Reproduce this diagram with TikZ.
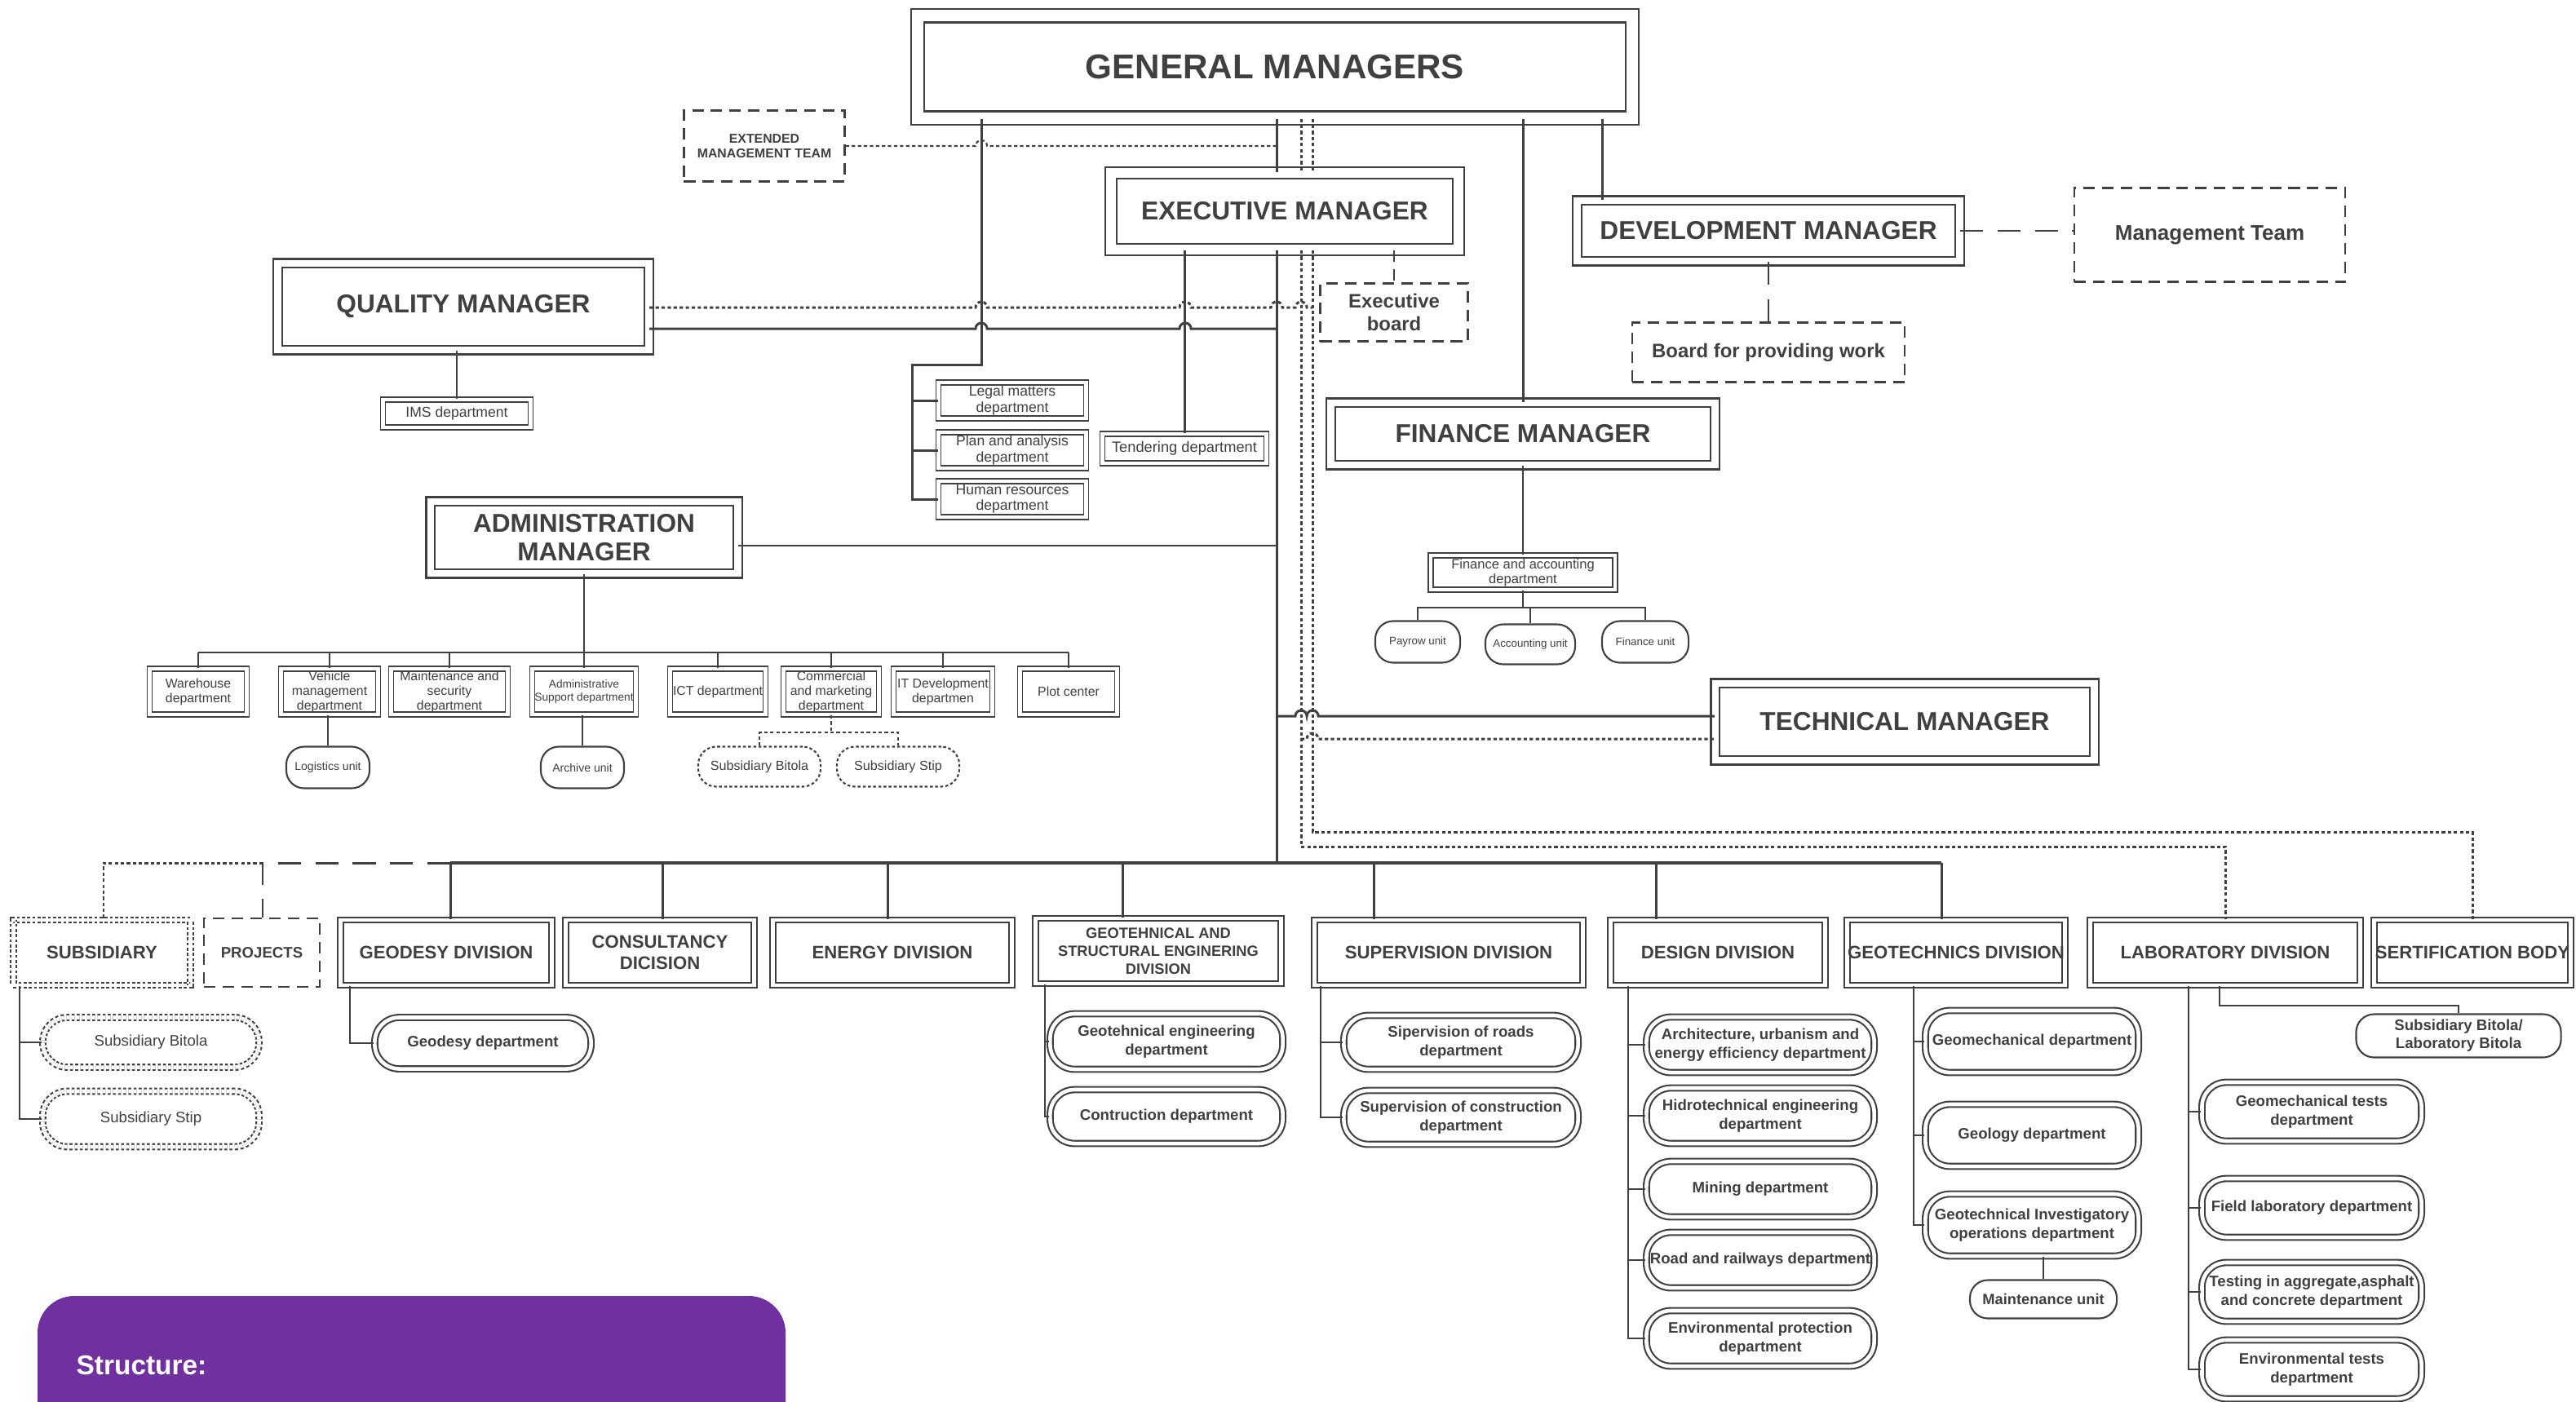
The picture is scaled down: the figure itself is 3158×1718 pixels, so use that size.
\documentclass[tikz,border=0pt]{standalone}
\usepackage{fontspec}
\setmainfont{Liberation Sans}
\usepackage{xcolor}
\usetikzlibrary{positioning}
\definecolor{ink}{HTML}{404040}
\definecolor{structpurple}{HTML}{7030A0}

\begin{document}
\begin{tikzpicture}[x=0.01cm, y=-0.01cm,
    every node/.style={text=ink, align=center, inner sep=0pt},
    wh/.style 2 args={minimum width=#1cm, minimum height=#2cm},
    gmbox/.style={draw=ink, line width=0.6pt, double, double distance=4pt, fill=white, font=\fontsize{12}{14}\selectfont\bfseries},
    chiefbox/.style={draw=ink, line width=0.6pt, double, double distance=2.5pt, fill=white, font=\fontsize{9}{10}\selectfont\bfseries},
    teambox/.style={draw=ink, line width=0.7pt, dash pattern=on 4pt off 2.5pt, fill=white, font=\fontsize{6.8}{8}\selectfont\bfseries},
    deptbox/.style={draw=ink, line width=0.5pt, double, double distance=1.2pt, fill=white, font=\fontsize{5}{5.5}\selectfont},
    admbox/.style={deptbox, font=\fontsize{4.5}{5.1}\selectfont},
    unitpill/.style={draw=ink, line width=0.6pt, rounded corners=0.22cm, fill=white, font=\fontsize{4}{5}\selectfont},
    subpill/.style={unitpill, dash pattern=on 1pt off 0.8pt, font=\fontsize{4.6}{5.5}\selectfont},
    divbox/.style={draw=ink, line width=0.6pt, double, double distance=1.3pt, fill=white, font=\fontsize{6.3}{7.4}\selectfont\bfseries},
    deptpill/.style={divbox, rounded corners=0.3cm, font=\fontsize{5.3}{6.4}\selectfont\bfseries},
    wire/.style={draw=ink, line width=0.85pt},
    thinwire/.style={draw=ink, line width=0.6pt},
    dotwire/.style={wire, dash pattern=on 1.2pt off 0.9pt},
    dashwire/.style={wire, line width=0.7pt, dash pattern=on 4pt off 2.5pt},
    longwire/.style={wire, dash pattern=on 8pt off 5pt}]

\useasboundingbox (0,0) rectangle (3158,1718);

% top management
\node[gmbox, wh={8.76}{1.25}] (gm) at (1563,82) {GENERAL MANAGERS};
\node[teambox, wh={1.97}{0.87}, font=\fontsize{4.5}{5.1}\selectfont\bfseries] (emt) at (937,179) {EXTENDED\\MANAGEMENT TEAM};
\node[chiefbox, double distance=3.5pt, wh={4.26}{0.94}] (em) at (1575,259) {EXECUTIVE MANAGER};
\node[teambox, wh={1.81}{0.71}] (eb) at (1709,383) {Executive\\board};
\node[chiefbox, wh={4.68}{0.74}] (dm) at (2168,283) {DEVELOPMENT MANAGER};
\node[teambox, wh={3.32}{1.15}, font=\fontsize{7.4}{8.5}\selectfont\bfseries] (mt) at (2709,288) {Management Team};
\node[teambox, wh={3.34}{0.73}] (bpw) at (2168,432) {Board for providing work};
\node[chiefbox, wh={4.54}{1.06}] (qm) at (568,376) {QUALITY MANAGER};
\node[deptbox, wh={1.81}{0.34}] (ims) at (560,507) {IMS department};
\node[deptbox, wh={1.81}{0.44}] (legal) at (1241,491) {Legal matters\\department};
\node[deptbox, wh={1.81}{0.44}] (plan) at (1241,552) {Plan and analysis\\department};
\node[deptbox, wh={1.81}{0.44}] (hr) at (1241,612) {Human resources\\department};
\node[deptbox, wh={2.01}{0.36}, font=\fontsize{5.2}{6}\selectfont] (tend) at (1452,550) {Tendering department};
\node[chiefbox, wh={4.70}{0.76}] (fm) at (1867,532) {FINANCE MANAGER};
\node[deptbox, wh={2.26}{0.42}, font=\fontsize{4.7}{5}\selectfont] (fad) at (1867,702) {Finance and accounting\\department};
\node[unitpill, wh={1.04}{0.51}, font=\fontsize{3.8}{4.5}\selectfont] (pay) at (1738,787) {Payrow unit};
\node[unitpill, wh={1.10}{0.49}, font=\fontsize{3.8}{4.5}\selectfont] (acc) at (1876,790) {Accounting unit};
\node[unitpill, wh={1.06}{0.51}, font=\fontsize{3.8}{4.5}\selectfont] (finu) at (2017,787) {Finance unit};
\node[chiefbox, wh={4.64}{0.94}] (tm) at (2335,885) {TECHNICAL MANAGER};
\node[chiefbox, wh={3.76}{0.88}] (am) at (716,659) {ADMINISTRATION\\MANAGER};

% administration departments
\node[admbox, wh={1.19}{0.56}] (ware) at (243,848) {Warehouse\\department};
\node[admbox, wh={1.19}{0.56}] (veh) at (404,848) {Vehicle\\management\\department};
\node[admbox, wh={1.43}{0.56}] (maint) at (551,848) {Maintenance and\\security\\department};
\node[admbox, wh={1.27}{0.56}, font=\fontsize{3.9}{4.7}\selectfont] (asup) at (716,848) {Administrative\\Support department};
\node[admbox, wh={1.17}{0.56}] (ict) at (880,848) {ICT department};
\node[admbox, wh={1.17}{0.56}] (comm) at (1019,848) {Commercial\\and marketing\\department};
\node[admbox, wh={1.21}{0.56}] (itd) at (1156,848) {IT Development\\departmen};
\node[admbox, wh={1.19}{0.56}] (plot) at (1310,848) {Plot center};
\node[unitpill, wh={1.02}{0.51}] (logi) at (402,941) {Logistics unit};
\node[unitpill, wh={1.02}{0.51}] (arch) at (714,941) {Archive unit};
\node[subpill, wh={1.50}{0.49}] (sbit) at (931,940) {Subsidiary Bitola};
\node[subpill, wh={1.50}{0.49}] (sstip) at (1101,940) {Subsidiary Stip};

% divisions
\node[divbox, dash pattern=on 1pt off 0.8pt, wh={2.17}{0.80}] (subs) at (125,1168) {SUBSIDIARY};
\node[teambox, wh={1.42}{0.84}, font=\fontsize{5.3}{6}\selectfont\bfseries] (proj) at (321,1168) {PROJECTS};
\node[divbox, wh={2.59}{0.80}] (geod) at (547,1168) {GEODESY DIVISION};
\node[divbox, wh={2.31}{0.80}] (cons) at (809,1168) {CONSULTANCY\\DICISION};
\node[divbox, wh={2.93}{0.80}] (ener) at (1094,1168) {ENERGY DIVISION};
\node[divbox, wh={3.01}{0.80}, font=\fontsize{5.2}{6.3}\selectfont\bfseries] (gstr) at (1420,1166) {GEOTEHNICAL AND\\STRUCTURAL ENGINERING\\DIVISION};
\node[divbox, wh={3.29}{0.80}] (supv) at (1776,1168) {SUPERVISION DIVISION};
\node[divbox, wh={2.63}{0.80}] (desg) at (2106,1168) {DESIGN DIVISION};
\node[divbox, wh={2.67}{0.80}] (gtch) at (2398,1168) {GEOTECHNICS DIVISION};
\node[divbox, wh={3.31}{0.80}] (lab) at (2728,1168) {LABORATORY DIVISION};
\node[divbox, wh={2.41}{0.80}] (sert) at (3031,1168) {SERTIFICATION BODY};

% division departments
\node[deptpill, dash pattern=on 1pt off 0.8pt, font=\fontsize{5.3}{6.4}\selectfont, wh={2.65}{0.61}] (sbit2) at (185,1278) {Subsidiary Bitola};
\node[deptpill, dash pattern=on 1pt off 0.8pt, font=\fontsize{5.3}{6.4}\selectfont, wh={2.65}{0.68}] (sstip2) at (185,1372) {Subsidiary Stip};
\node[deptpill, wh={2.65}{0.63}] (gdep) at (592,1279) {Geodesy department};
\node[deptpill, wh={2.85}{0.68}] (geng) at (1430,1277) {Geotehnical engineering\\department};
\node[deptpill, wh={2.85}{0.66}] (gcon) at (1430,1369) {Contruction department};
\node[deptpill, wh={2.87}{0.66}] (sroad) at (1791,1278) {Sipervision of roads\\department};
\node[deptpill, wh={2.87}{0.66}] (scon) at (1791,1370) {Supervision of construction\\department};
\node[deptpill, wh={2.79}{0.68}] (d1) at (2158,1281) {Architecture, urbanism and\\energy efficiency department};
\node[deptpill, wh={2.79}{0.68}] (d2) at (2158,1368) {Hidrotechnical engineering\\department};
\node[deptpill, wh={2.79}{0.68}] (d3) at (2158,1458) {Mining department};
\node[deptpill, wh={2.79}{0.68}] (d4) at (2158,1545) {Road and railways department};
\node[deptpill, wh={2.79}{0.68}] (d5) at (2158,1641) {Environmental protection\\department};
\node[deptpill, wh={2.61}{0.76}] (t1) at (2491,1277) {Geomechanical department};
\node[deptpill, wh={2.61}{0.76}] (t2) at (2491,1392) {Geology department};
\node[deptpill, wh={2.61}{0.76}] (t3) at (2491,1502) {Geotechnical Investigatory\\operations department};
\node[unitpill, wh={1.80}{0.47}, font=\fontsize{5.2}{6}\selectfont\bfseries] (mu) at (2505,1593) {Maintenance unit};
\node[unitpill, wh={2.51}{0.53}, font=\fontsize{5.3}{6.3}\selectfont\bfseries] (lbit) at (3014,1270) {Subsidiary Bitola/\\Laboratory Bitola};
\node[deptpill, wh={2.69}{0.72}] (l1) at (2834,1363) {Geomechanical tests\\department};
\node[deptpill, wh={2.69}{0.72}] (l2) at (2834,1481) {Field laboratory department};
\node[deptpill, wh={2.69}{0.72}] (l3) at (2834,1584) {Testing in aggregate,asphalt\\and concrete department};
\node[deptpill, wh={2.69}{0.72}] (l4) at (2834,1679) {Environmental tests\\department};

% structure panel
\fill[structpurple, rounded corners=0.45cm] (46,1589) rectangle (963,1800);
\node[anchor=west, text=white, font=\fontsize{9.5}{11}\selectfont\bfseries] (structure) at (93,1674) {Structure:};

% connectors: general managers
\draw[wire] (gm.south -| 1565,0) -- (em.north -| 1565,0);
\draw[wire] (gm.south -| 1203,0) -- (1203,447) -- (1118,447) -- (hr.west -| 1118,0) -- (hr.west);
\draw[wire] (legal.west -| 1118,0) -- (legal.west);
\draw[wire] (plan.west -| 1118,0) -- (plan.west);
\draw[wire] (gm.south -| fm.north) -- (fm.north);
\draw[wire] (gm.south -| 1964,0) -- (dm.north -| 1964,0);
\draw[dotwire] (gm.south -| 1595,0) -- (em.north -| 1595,0);
\draw[dotwire] (gm.south -| 1609,0) -- (em.north -| 1609,0);
\draw[dotwire, line width=0.6pt] (emt.east) -- (1196,179) arc[start angle=180, end angle=0, radius=2pt] -- (1565,179);

% executive manager
\coordinate (hub) at (1565,1058);
\draw[wire] (em.south -| hub) -- (hub);
\draw[wire] (em.south -| tend.north) -- (tend.north);
\draw[dashwire] (em.south -| eb.north) -- (eb.north);
\draw[dotwire] (em.south -| 1609,0) -- (1609,1020) -- (sert.north |- 0,1020) -- (sert.north);
\draw[dotwire] (em.south -| 1595,0) -- (1595,1038) -- (lab.north |- 0,1038) -- (lab.north);

% quality manager
\draw[dotwire] (qm.east |- 0,377) -- (1196,377) arc[start angle=180, end angle=0, radius=2pt]
  -- (1446,377) arc[start angle=180, end angle=0, radius=2pt]
  -- (1558,377) arc[start angle=180, end angle=0, radius=2pt]
  -- (1588,377) arc[start angle=180, end angle=0, radius=2pt] -- (1609,377);
\draw[wire] (qm.east |- 0,403) -- (1196,403) arc[start angle=180, end angle=0, radius=2pt]
  -- (1446,403) arc[start angle=180, end angle=0, radius=2pt] -- (1565,403);
\draw[thinwire] (qm.south -| ims.north) -- (ims.north);

% administration manager
\draw[thinwire] (am.east |- 0,669) -- (1565,669);
\draw[thinwire] (am.south) -- (asup.north);
\draw[thinwire] (ware.north |- 0,800) -- (plot.north |- 0,800);
\foreach \dep in {ware,veh,maint,ict,comm,itd,plot}
  \draw[thinwire] (\dep.north) -- (\dep.north |- 0,800);
\draw[thinwire] (veh.south -| logi.north) -- (logi.north);
\draw[thinwire] (asup.south -| arch.north) -- (arch.north);
\draw[dotwire, line width=0.5pt] (comm.south) -- (comm.south |- 0,898);
\draw[dotwire, line width=0.5pt] (sbit.north) -- (sbit.north |- 0,898) -- (sstip.north |- 0,898) -- (sstip.north);

% finance manager
\draw[thinwire] (fm.south) -- (fad.north);
\draw[thinwire] (fad.south) -- (fad.south |- 0,745);
\draw[thinwire] (pay.north) -- (pay.north |- 0,745) -- (finu.north |- 0,745) -- (finu.north);
\draw[thinwire] (acc.north) -- (acc.north |- 0,745);

% development manager
\draw[longwire] (dm.east) -- (dm.east -| mt.west);
\draw[longwire, line width=0.6pt] (dm.south) -- (bpw.north);

% technical manager
\draw[wire] (1565,878) -- (1588,878) arc[start angle=180, end angle=0, radius=2pt]
  arc[start angle=180, end angle=0, radius=2pt] -- (tm.west |- 0,878);
\draw[dotwire] (1595,906) -- (1602,906) arc[start angle=180, end angle=0, radius=2pt] -- (tm.west |- 0,906);

% divisions
\draw[wire, line width=1.1pt] (552,1058) -- (2380,1058);
\foreach \x/\dv in {552/geod, 812/cons, 1088/ener, 1376/gstr, 1684/supv, 2030/desg, 2380/gtch}
  \draw[wire] (\x,1058) -- (\dv.north -| \x,0);
\draw[longwire] (552,1058) -- (322,1058) -- (proj.north -| 322,0);
\draw[dotwire] (322,1058) -- (127,1058) -- (subs.north -| 127,0);

% division departments
\draw[thinwire] (subs.south -| 24,0) -- (sstip2.west -| 24,0) -- (sstip2.west);
\draw[thinwire] (sbit2.west -| 24,0) -- (sbit2.west);
\draw[thinwire] (geod.south -| 429,0) -- (gdep.west -| 429,0) -- (gdep.west);
\draw[thinwire] (gstr.south -| 1281,0) -- (gcon.west -| 1281,0) -- (gcon.west);
\draw[thinwire] (geng.west -| 1281,0) -- (geng.west);
\draw[thinwire] (supv.south -| 1619,0) -- (scon.west -| 1619,0) -- (scon.west);
\draw[thinwire] (sroad.west -| 1619,0) -- (sroad.west);
\draw[thinwire] (desg.south -| 1996,0) -- (d5.west -| 1996,0) -- (d5.west);
\foreach \dep in {d1,d2,d3,d4}
  \draw[thinwire] (\dep.west -| 1996,0) -- (\dep.west);
\draw[thinwire] (gtch.south -| 2346,0) -- (t3.west -| 2346,0) -- (t3.west);
\foreach \dep in {t1,t2}
  \draw[thinwire] (\dep.west -| 2346,0) -- (\dep.west);
\draw[thinwire] (t3.south -| mu.north) -- (mu.north);
\draw[thinwire] (lab.south -| 2683,0) -- (l4.west -| 2683,0) -- (l4.west);
\foreach \dep in {l1,l2,l3}
  \draw[thinwire] (\dep.west -| 2683,0) -- (\dep.west);
\draw[thinwire] (lab.south -| 2721,0) -- (2721,1233) -- (lbit.north |- 0,1233) -- (lbit.north);
\end{tikzpicture}
\end{document}
